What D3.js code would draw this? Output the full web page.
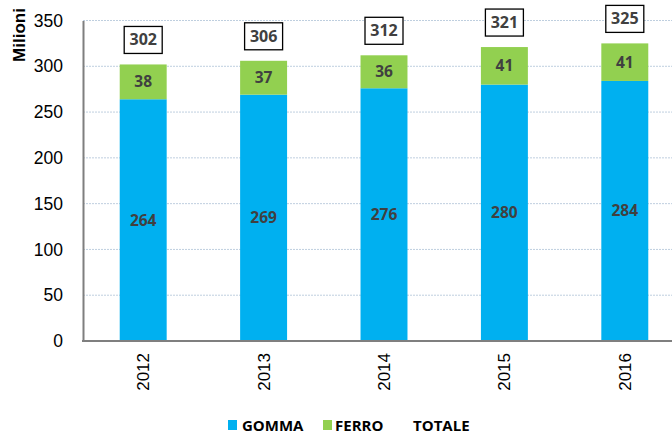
<!DOCTYPE html>
<html>
<head>
<meta charset="utf-8">
<script src="https://cdn.jsdelivr.net/npm/d3@7"></script>
<style>
  body { margin: 0; background: #fff; }
  svg { display: block; }
</style>
</head>
<body>
<svg width="672" height="434"></svg>
<script>
var years = ["2012", "2013", "2014", "2015", "2016"];
var gomma = [264, 269, 276, 280, 284];
var ferro = [38, 37, 36, 41, 41];
var totale = [302, 306, 312, 321, 325];
var yTicks = [0, 50, 100, 150, 200, 250, 300, 350];

var svg = d3.select("svg");
var labelFont = "'Open Sans', Lato, sans-serif";

var x = d3.scaleBand().domain(years).range([83, 685]).paddingInner(0.61).paddingOuter(0.305);
var y = d3.scaleLinear().domain([0, 350]).range([341, 20.5]);

// gridlines
svg.append("g")
    .selectAll("line")
    .data(yTicks.filter(d => d > 0))
    .enter()
    .append("line")
    .attr("x1", 83).attr("x2", 672)
    .attr("y1", d => y(d)).attr("y2", d => y(d))
    .attr("stroke", "#bfcfdf")
    .attr("stroke-width", 1)
    .attr("stroke-dasharray", "2,1");

var rows = years.map((yr, i) => ({ year: yr, gomma: gomma[i], ferro: ferro[i], totale: totale[i] }));

// gomma bars
svg.append("g").selectAll("rect")
    .data(rows).enter().append("rect")
    .attr("x", d => x(d.year))
    .attr("width", x.bandwidth())
    .attr("y", d => y(d.gomma))
    .attr("height", d => y(0) - y(d.gomma))
    .attr("fill", "#00b0f0");

// ferro bars
svg.append("g").selectAll("rect")
    .data(rows).enter().append("rect")
    .attr("x", d => x(d.year))
    .attr("width", x.bandwidth())
    .attr("y", d => y(d.gomma + d.ferro))
    .attr("height", d => y(d.gomma) - y(d.gomma + d.ferro))
    .attr("fill", "#92d050");

// segment labels
var seg = svg.append("g")
    .attr("font-family", labelFont)
    .attr("font-weight", "bold")
    .attr("font-size", 15.5)
    .attr("fill", "#404040")
    .attr("text-anchor", "middle");

seg.selectAll("text.g")
    .data(rows).enter().append("text")
    .attr("x", d => x(d.year) + x.bandwidth() / 2)
    .attr("y", d => y(d.gomma / 2))
    .attr("dy", "0.35em")
    .text(d => d.gomma);

seg.selectAll("text.f")
    .data(rows).enter().append("text")
    .attr("x", d => x(d.year) + x.bandwidth() / 2)
    .attr("y", d => y(d.gomma + d.ferro / 2))
    .attr("dy", "0.35em")
    .text(d => d.ferro);

// totale boxes
var tot = svg.append("g").selectAll("g")
    .data(rows).enter().append("g")
    .attr("transform", d => "translate(" + (x(d.year) + x.bandwidth() / 2) + "," + (y(d.totale) - 25) + ")");

tot.append("rect")
    .attr("x", -19).attr("y", -13)
    .attr("width", 38).attr("height", 27)
    .attr("fill", "#fff")
    .attr("stroke", "#000")
    .attr("stroke-width", 1.3);

tot.append("text")
    .attr("text-anchor", "middle")
    .attr("dy", "0.36em")
    .attr("font-family", labelFont)
    .attr("font-weight", "bold")
    .attr("font-size", 16)
    .attr("fill", "#404040")
    .text(d => d.totale);

// y axis
var yAxis = svg.append("g")
    .attr("transform", "translate(83,0)")
    .call(d3.axisLeft(y).tickValues(yTicks).tickSize(0).tickPadding(20));
yAxis.select(".domain").attr("stroke", "#7f7f7f").attr("stroke-width", 2);
yAxis.selectAll("text")
    .attr("font-family", "'Liberation Sans', Arial, sans-serif")
    .attr("font-size", 17.5)
    .attr("fill", "#000");

// x baseline
svg.append("line")
    .attr("x1", 82).attr("x2", 672)
    .attr("y1", y(0)).attr("y2", y(0))
    .attr("stroke", "#7f7f7f")
    .attr("stroke-width", 2);

// x labels
svg.append("g").selectAll("text")
    .data(years).enter().append("text")
    .attr("transform", d => "translate(" + (x(d) + x.bandwidth() / 2 + 6) + ",353) rotate(-90)")
    .attr("text-anchor", "end")
    .attr("font-family", "'Liberation Sans', Arial, sans-serif")
    .attr("font-size", 17)
    .attr("fill", "#000")
    .text(d => d);

// y title
svg.append("text")
    .attr("transform", "translate(25,35) rotate(-90)")
    .attr("text-anchor", "middle")
    .attr("font-family", "'Liberation Sans', Arial, sans-serif")
    .attr("font-weight", "bold")
    .attr("font-size", 17)
    .attr("fill", "#000")
    .text("Milioni");

// legend
var legendItems = [
    { name: "GOMMA", color: "#00b0f0", x: 228 },
    { name: "FERRO", color: "#92d050", x: 323 },
    { name: "TOTALE", color: null, x: 400 }
];
var leg = svg.append("g").selectAll("g")
    .data(legendItems).enter().append("g")
    .attr("transform", d => "translate(" + d.x + ",420)");
leg.filter(d => d.color).append("rect")
    .attr("width", 9).attr("height", 10)
    .attr("fill", d => d.color);
leg.append("text")
    .attr("x", d => d.name == "GOMMA" ? 14 : (d.name == "FERRO" ? 12 : 13))
    .attr("y", 10.5)
    .attr("font-family", labelFont)
    .attr("font-weight", "bold")
    .attr("font-size", 15)
    .attr("fill", "#000")
    .text(d => d.name);
</script>
</body>
</html>
